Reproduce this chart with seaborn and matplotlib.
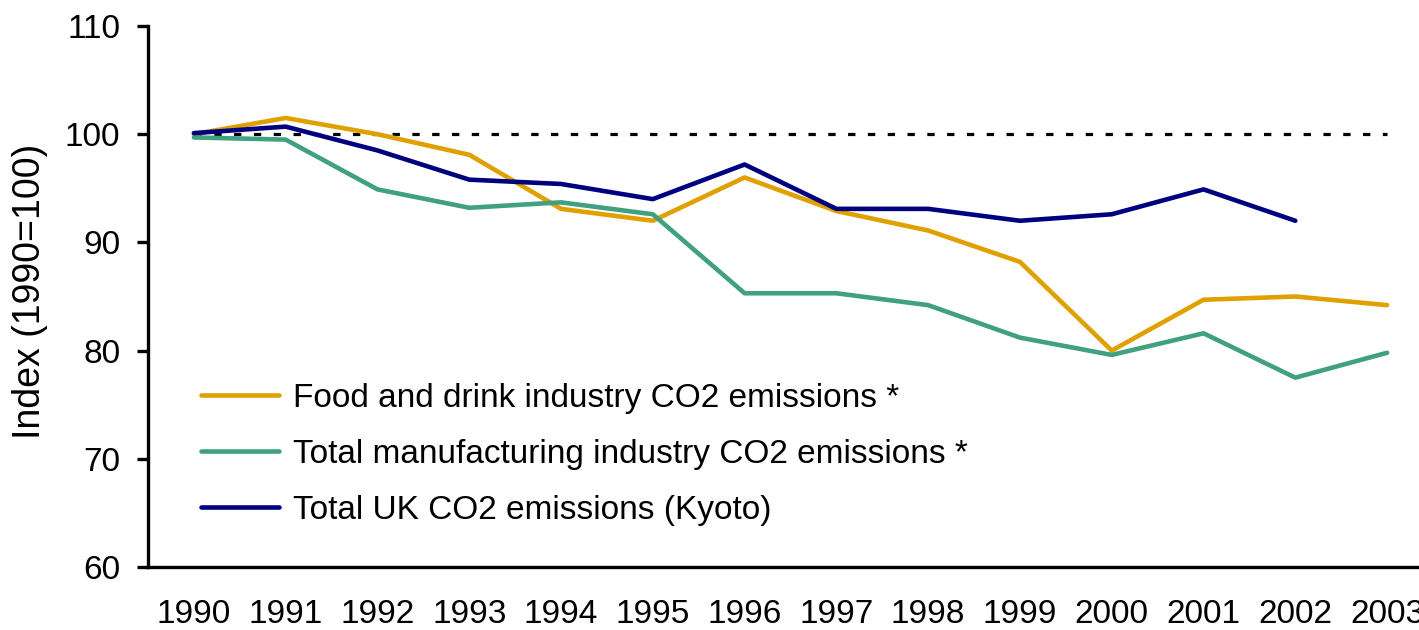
import numpy as np
import pandas as pd
import matplotlib
matplotlib.use("Agg")
import matplotlib.pyplot as plt
import seaborn as sns

# ---- data ----
years = ["1990", "1991", "1992", "1993", "1994", "1995", "1996",
         "1997", "1998", "1999", "2000", "2001", "2002", "2003"]
food_drink = [100.0, 101.5, 100.0, 98.1, 93.1, 92.0, 96.0,
              92.9, 91.1, 88.2, 80.0, 84.7, 85.0, 84.2]
manufacturing = [99.7, 99.5, 94.9, 93.2, 93.7, 92.6, 85.3,
                 85.3, 84.2, 81.2, 79.6, 81.6, 77.5, 79.8]
uk_total = [100.1, 100.7, 98.5, 95.8, 95.4, 94.0, 97.2,
            93.1, 93.1, 92.0, 92.6, 94.9, 92.0, np.nan]
baseline = [100, 100, 100, 100, 100, 100, 100,
            100, 100, 100, 100, 100, 100, 100]
labels = ["Food and drink industry CO2 emissions *",
          "Total manufacturing industry CO2 emissions *",
          "Total UK CO2 emissions (Kyoto)"]
colors = ["#E0A000", "#40A080", "#000080"]

sns.set_style("white")
plt.rcParams["font.family"] = ["Liberation Sans", "DejaVu Sans"]
plt.rcParams["text.color"] = "black"
plt.rcParams["axes.labelcolor"] = "black"

FS = 24
W, H = 1419, 630
fig = plt.figure(figsize=(W / 100, H / 100), dpi=100)
ax = fig.add_axes([148 / W, 63 / H, 1285 / W, 541 / H])

x = np.arange(len(years))

# dotted 100 reference line
sns.lineplot(x=x, y=baseline, ax=ax, color="black", linewidth=2.3,
             linestyle=(0, (2.3, 3.9)), legend=False)
ax.lines[-1].set_dash_capstyle("butt")

for vals, lab, col in zip([food_drink, manufacturing, uk_total], labels, colors):
    df = pd.DataFrame({"x": x, "y": vals}).dropna()
    sns.lineplot(data=df, x="x", y="y", ax=ax, color=col, linewidth=3.3,
                 label=lab)

ax.set_xlim(-0.5, 13.5)
ax.set_ylim(60, 110)
ax.set_yticks([60, 70, 80, 90, 100, 110])
ax.set_xticks(x)
ax.set_xticklabels(years)
ax.set_xticks(np.arange(-0.5, 14, 1.0), minor=True)

for s in ["top", "right"]:
    ax.spines[s].set_visible(False)
for s in ["left", "bottom"]:
    ax.spines[s].set_color("black")
    ax.spines[s].set_linewidth(2.4)

ax.tick_params(axis="x", which="major", length=0, pad=23, labelsize=FS,
               colors="black")
ax.tick_params(axis="x", which="minor", length=8, width=2.4, direction="out",
               color="black")
ax.tick_params(axis="y", which="major", length=8, width=2.4, direction="out",
               pad=12, labelsize=FS, colors="black", left=True)
ax.set_xlabel("")
ax.set_ylabel("Index (1990=100)", fontsize=27, va="center", color="black")
ax.yaxis.set_label_coords((30 - 148) / 1285, (567 - 291) / 541)

leg = ax.legend(loc="upper left", bbox_to_anchor=(201 / W, 1 - 383 / H),
                bbox_transform=fig.transFigure, frameon=False, fontsize=FS,
                handlelength=2.35, handletextpad=0.42, labelspacing=0.75,
                borderpad=0, borderaxespad=0)
for t in leg.get_texts():
    t.set_color("black")

fig.savefig("out.png", dpi=100)
